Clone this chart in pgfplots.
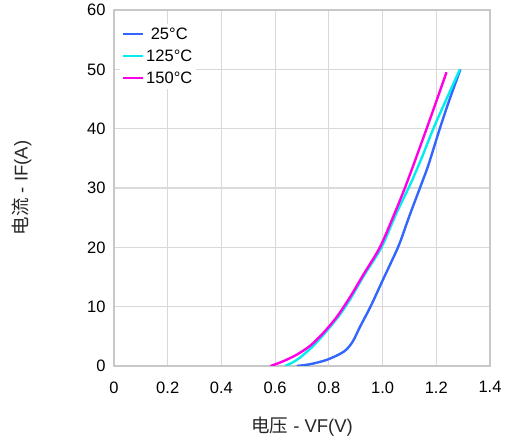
\documentclass[border=0pt]{standalone}
\usepackage{pgfplots}
\pgfplotsset{compat=1.18}
\usepackage{fontspec}
\setmainfont{Liberation Sans}
\newfontfamily\cjk{Noto Sans CJK SC}
\definecolor{c25}{RGB}{51,102,255}
\definecolor{c125}{RGB}{0,238,238}
\definecolor{c150}{RGB}{255,0,230}
\definecolor{gridc}{RGB}{217,217,217}
\definecolor{framec}{RGB}{200,200,200}
\begin{document}
\begin{tikzpicture}
\begin{axis}[
  at={(0pt,0pt)}, anchor=south west,
  scale only axis, width=376pt, height=356pt,
  xmin=0, xmax=1.4, ymin=0, ymax=60,
  xtick={0,0.2,0.4,0.6,0.8,1.0,1.2,1.4},
  xticklabels={0,0.2,0.4,0.6,0.8,1.0,1.2,1.4},
  ytick={0,10,20,30,40,50,60},
  grid=major,
  major grid style={draw=gridc, line width=1.2pt},
  axis line style={draw=framec, line width=1.8pt},
  major tick length=0pt,
  tick style={draw=none},
  /pgf/number format/assume math mode=true,
  tick label style={font=\fontsize{16.5}{19}\selectfont, text=black},
  xticklabel style={yshift=-12pt},
  yticklabel style={xshift=-5pt},
  xlabel={{\cjk 电压} - VF(V)},
  ylabel={{\cjk 电流} - IF(A)},
  label style={font=\fontsize{18.5}{22}\selectfont, text=black!85},
  xlabel style={at={(axis description cs:0.5,-0.170)}, anchor=center},
  ylabel style={at={(axis description cs:-0.2455,0.5)}, anchor=center},
  legend style={at={(axis description cs:0.015,0.962)}, anchor=north west,
    draw=none, fill=white, font=\fontsize{16.5}{19}\selectfont,
    row sep=5pt, inner sep=2pt},
  legend cell align=left,
  legend image code/.code={\draw[#1, line width=2.4pt] (0pt,0pt) -- (20pt,0pt);},
  every axis plot/.append style={line width=2.4pt, smooth, tension=0.5},
]
\addplot[c25] coordinates {
(0.680,0) (0.73,0.3) (0.79,1.0) (0.84,2.0) (0.866,2.8) (0.89,4.2) (0.916,6.6)
(0.955,10) (1.0,14.4) (1.03,17.3) (1.062,20.5) (1.1,25.3) (1.139,30)
(1.17,33.8) (1.213,40) (1.25,45) (1.29,50)};
\addlegendentry{\ 25°C}
\addplot[c125] coordinates {
(0.637,0) (0.665,0.6) (0.692,1.4) (0.74,3.3) (0.79,5.8) (0.84,8.6) (0.88,11.3)
(0.93,15.2) (0.996,20) (1.05,25.6) (1.102,30.5) (1.145,35) (1.189,40)
(1.24,45.2) (1.288,50)};
\addlegendentry{125°C}
\addplot[c150] coordinates {
(0.583,0) (0.63,0.8) (0.68,1.9) (0.73,3.4) (0.78,5.6) (0.83,8.3) (0.88,11.7)
(0.93,15.5) (0.99,20) (1.04,25.2) (1.083,30) (1.12,34.5) (1.164,40)
(1.2,44.6) (1.238,49.5)};
\addlegendentry{150°C}
\end{axis}
\pgfresetboundingbox
\path[use as bounding box] (-114pt,-77pt) rectangle (391pt,366pt);
\end{tikzpicture}
\end{document}
